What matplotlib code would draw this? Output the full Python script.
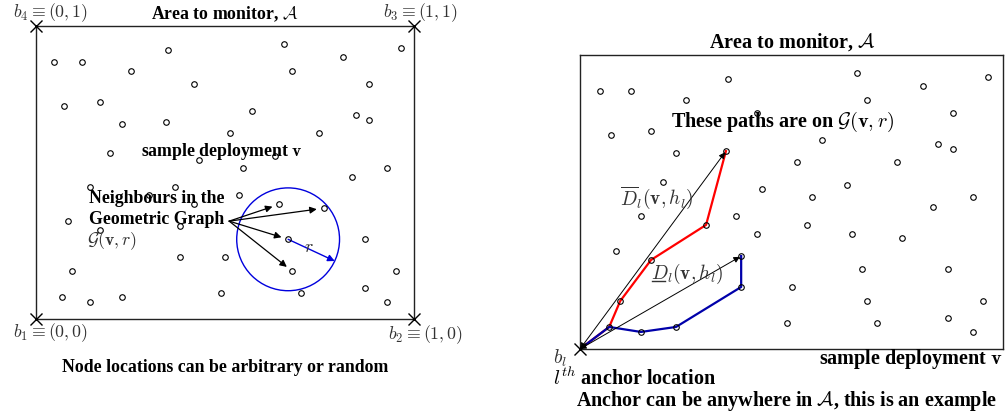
import numpy as np
import matplotlib.pyplot as plt
from matplotlib.patches import Ellipse
from matplotlib.lines import Line2D

plt.rcParams['font.family'] = ['Liberation Serif', 'DejaVu Serif']
plt.rcParams['mathtext.fontset'] = 'cm'

# sample deployment v, node positions in the unit square (same in both panels)
node_x = [0.047, 0.121, 0.251, 0.350, 0.418, 0.655, 0.678, 0.811, 0.965, 0.882,
          0.073, 0.168, 0.227, 0.345, 0.572, 0.513, 0.749, 0.846, 0.882, 0.196,
          0.430, 0.631, 0.548, 0.929, 0.835, 0.144, 0.369, 0.298, 0.537, 0.418,
          0.643, 0.761, 0.085, 0.168, 0.381, 0.667, 0.870, 0.381, 0.501, 0.095,
          0.678, 0.953, 0.069, 0.144, 0.227, 0.489, 0.702, 0.870, 0.929]
node_y = [0.878, 0.878, 0.847, 0.918, 0.803, 0.939, 0.847, 0.895, 0.925, 0.803,
          0.728, 0.741, 0.667, 0.673, 0.711, 0.636, 0.636, 0.697, 0.680, 0.568,
          0.544, 0.558, 0.517, 0.517, 0.483, 0.452, 0.452, 0.422, 0.422, 0.391,
          0.391, 0.378, 0.333, 0.303, 0.316, 0.272, 0.272, 0.211, 0.211, 0.163,
          0.163, 0.163, 0.075, 0.058, 0.075, 0.088, 0.088, 0.105, 0.058]

# left panel: neighbours of one node within radius r
centre = 35
neighbours = [30, 31, 35, 40]
radius = 0.136          # in x units of the unit square
radius_angle = -25      # direction of the r arrow, degrees

# right panel: anchor b_l and two paths on G(v, r)
anchor = (0.0, 0.0)
red_path = [42, 39, 33, 27, 13]
blue_path = [42, 43, 44, 37, 34]

W, H = 1006, 414
FS_L = 12.8   # left panel text
FS_R = 14.5   # right panel bold text
FS_RM = 14    # right panel math labels
MATH = '#333333'

fig = plt.figure(figsize=(W / 100, H / 100), dpi=100)


def px_box(x0, y0, x1, y1):
    return [x0 / W, 1 - y1 / H, (x1 - x0) / W, (y1 - y0) / H]


def ftext(x, y, s, **kw):
    kw.setdefault('va', 'center')
    fig.text(x / W, 1 - y / H, s, **kw)


axL = fig.add_axes(px_box(36, 27, 414, 320))
axR = fig.add_axes(px_box(580, 56, 1003, 350))
for ax in (axL, axR):
    ax.set_xlim(0, 1)
    ax.set_ylim(0, 1)
    ax.set_xticks([])
    ax.set_yticks([])
    for sp in ax.spines.values():
        sp.set_linewidth(1.0)
        sp.set_color('#222222')
    ax.plot(node_x, node_y, 'o', mfc='none', mec='k', ms=4, mew=0.8, zorder=4)

# ---- left panel ----
axL.plot([0, 1, 1, 0], [0, 0, 1, 1], 'x', color='k', ms=8, mew=1, clip_on=False, zorder=5)

# keep the circle round on screen
pos = axL.get_position()
aspect = (pos.width * W) / (pos.height * H)
cx, cy = node_x[centre], node_y[centre]
rx, ry = radius, radius * aspect
axL.add_patch(Ellipse((cx, cy), 2 * rx, 2 * ry, fill=False, ec='#0000dd', lw=1.0, zorder=3))
a = np.deg2rad(radius_angle)
axL.annotate('', xy=(cx + rx * np.cos(a), cy + ry * np.sin(a)), xytext=(cx, cy),
             arrowprops=dict(arrowstyle='-|>', color='#0000dd', lw=1.0,
                             shrinkA=0, shrinkB=0, mutation_scale=10))

src = (0.511, 0.334)
for i in neighbours:
    axL.annotate('', xy=(node_x[i], node_y[i]), xytext=src,
                 arrowprops=dict(arrowstyle='-|>', color='k', lw=0.9,
                                 shrinkA=0, shrinkB=5, mutation_scale=10))

ftext(225, 14, r'Area to monitor, $\mathcal{A}$', ha='center', weight='bold', fontsize=FS_L)
ftext(50, 13, r'$b_4 \equiv (0,1)$', ha='center', color=MATH, fontsize=FS_L)
ftext(420, 13, r'$b_3 \equiv (1,1)$', ha='center', color=MATH, fontsize=FS_L)
ftext(50, 333, r'$b_1 \equiv (0,0)$', ha='center', color=MATH, fontsize=FS_L)
ftext(425, 335, r'$b_2 \equiv (1,0)$', ha='center', color=MATH, fontsize=FS_L)
ftext(222, 152, r'sample deployment $\mathbf{v}$', ha='center', weight='bold', fontsize=FS_L)
ftext(89, 199, 'Neighbours in the', ha='left', weight='bold', fontsize=FS_L)
ftext(89, 220, 'Geometric Graph', ha='left', weight='bold', fontsize=FS_L)
ftext(87, 241, r'$\mathcal{G}(\mathbf{v}, r)$', ha='left', color=MATH, fontsize=FS_L)
ftext(309, 248, r'$r$', ha='center', color=MATH, fontsize=FS_L)
ftext(225, 368, 'Node locations can be arbitrary or random', ha='center', weight='bold', fontsize=FS_L)

# ---- right panel ----
axR.plot([anchor[0]] + [node_x[i] for i in red_path],
         [anchor[1]] + [node_y[i] for i in red_path], color='red', lw=1.6, zorder=3)
axR.plot([anchor[0]] + [node_x[i] for i in blue_path],
         [anchor[1]] + [node_y[i] for i in blue_path], color='#0000aa', lw=1.6, zorder=3)
for i in (red_path[-1], blue_path[-1]):
    axR.annotate('', xy=(node_x[i], node_y[i]), xytext=anchor,
                 arrowprops=dict(arrowstyle='<|-|>', color='k', lw=0.7,
                                 shrinkA=0, shrinkB=1, mutation_scale=9))
axR.plot([anchor[0]], [anchor[1]], 'x', color='k', ms=8, mew=1, clip_on=False, zorder=5)

ftext(792, 42, r'Area to monitor, $\mathcal{A}$', ha='center', weight='bold', fontsize=FS_R)
ftext(783, 122, r'These paths are on $\mathcal{G}(\mathbf{v}, r)$', ha='center', weight='bold', fontsize=FS_R)
ftext(620, 198, r'$\overline{D}_l(\mathbf{v}, h_l)$', ha='left', color=MATH, fontsize=FS_RM)
ftext(651, 274, r'$D_l(\mathbf{v}, h_l)$', ha='left', color=MATH, fontsize=FS_RM)
fig.add_artist(Line2D([652 / W, 665 / W], [1 - 282 / H, 1 - 282 / H], color=MATH, lw=1))
ftext(1002, 359, r'sample deployment $\mathbf{v}$', ha='right', weight='bold', fontsize=FS_R)
ftext(553, 358, r'$b_l$', ha='left', color=MATH, fontsize=FS_RM)
ftext(553, 379, r'$l^{th}$ anchor location', ha='left', weight='bold', fontsize=FS_R)
ftext(787, 401, r'Anchor can be anywhere in $\mathcal{A}$, this is an example', ha='center',
      weight='bold', fontsize=FS_R)

fig.savefig('out.png', dpi=100)
